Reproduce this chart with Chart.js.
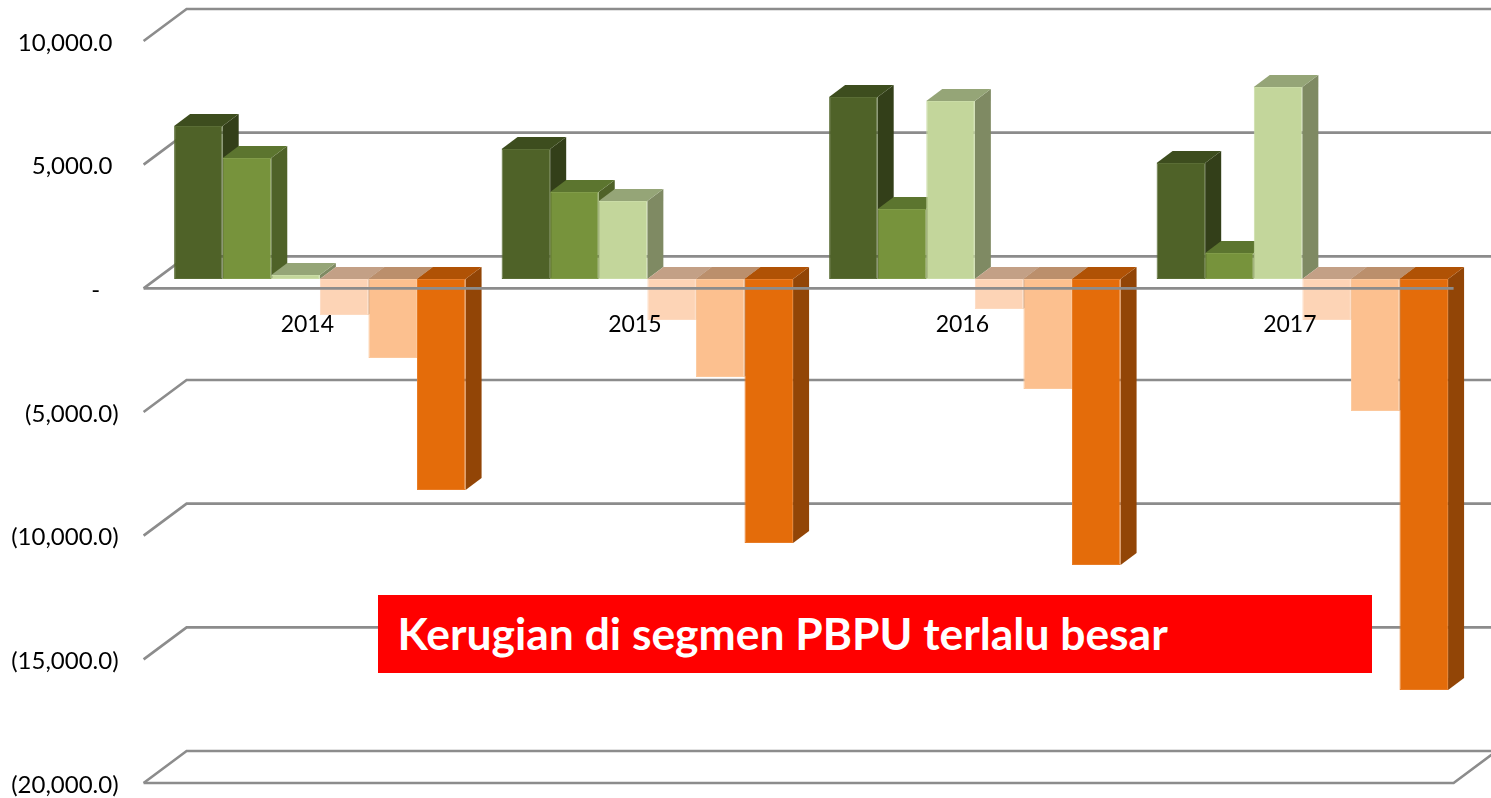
<!DOCTYPE html>
<html>
<head>
<meta charset="utf-8">
<style>
html,body{margin:0;padding:0;background:#fff;width:1491px;height:798px;overflow:hidden}
#wrap{position:relative;width:1491px;height:798px}
canvas{display:block}
#note{position:absolute;left:378px;top:595px;width:994px;height:78px;background:#ff0000;color:#fff;
font:bold 44.4px Lato,sans-serif;line-height:75px;padding-left:19.5px;box-sizing:border-box;white-space:nowrap}
</style>
</head>
<body>
<div id="wrap">
<canvas id="c" width="1491" height="798"></canvas>
<div id="note">Kerugian di segmen PBPU terlalu besar</div>
</div>
<script src="https://cdn.jsdelivr.net/npm/chart.js@4/dist/chart.umd.min.js"></script>
<script>
const categories = ['2014','2015','2016','2017'];
const series1 = [6187, 5257, 7359, 4691];
const series2 = [4893, 3518, 2831, 1051];
const series3 = [162, 3154, 7198, 7764];
const series4 = [-1456, -1658, -1213, -1658];
const series5 = [-3195, -3963, -4448, -5338];
const series6 = [-8532, -10675, -11565, -16620];
const yTickValues = [10000, 5000, 0, -5000, -10000, -15000, -20000];
const yTickLabels = ['10,000.0 ', '5,000.0 ', '-   ', '(5,000.0)', '(10,000.0)', '(15,000.0)', '(20,000.0)'];

const front = ['#4f6228','#77933c','#c3d69b','#fdd4b6','#fcc08f','#e46c0a'];
const edge  = ['#5a6d35','#819c49','#cadca6','#fddac0','#fcc89c','#e87c26'];
const tops  = ['#3d4d1e','#5c752f','#95a577','#c3a086','#bb8f6c','#b05205'];
const sides = ['#333f19','#4f6228','#7f8a63','#b8977e','#b08664','#924506'];
const GRID = '#8c8c8c';
const BAR_SHIFT = {x:12.5, y:-9.3};
const BAR_DEPTH = {x:16, y:-12};
const WALL = {x:43, y:-32};

const scene3d = {
  id:'scene3d',
  beforeDatasetsDraw(chart){
    const {ctx, scales:{x,y}} = chart;
    ctx.save();
    ctx.strokeStyle = GRID; ctx.lineWidth = 2.6;
    yTickValues.forEach(v=>{
      const py = y.getPixelForValue(v);
      ctx.beginPath();
      ctx.moveTo(x.left, py);
      ctx.lineTo(x.left+WALL.x, py+WALL.y);
      ctx.lineTo(x.right+WALL.x, py+WALL.y);
      ctx.stroke();
    });
    ctx.restore();
    ctx.save();
    ctx.translate(BAR_SHIFT.x, BAR_SHIFT.y);
    const n = chart.data.datasets.length;
    categories.forEach((_,ci)=>{
      for(let d=0;d<n;d++){
        const b = chart.getDatasetMeta(d).data[ci];
        const l=b.x-b.width/2, r=b.x+b.width/2;
        const t=Math.min(b.y,b.base), bot=Math.max(b.y,b.base);
        ctx.fillStyle = sides[d];
        ctx.beginPath();
        ctx.moveTo(r,t);ctx.lineTo(r+BAR_DEPTH.x,t+BAR_DEPTH.y);
        ctx.lineTo(r+BAR_DEPTH.x,bot+BAR_DEPTH.y);ctx.lineTo(r,bot);ctx.closePath();ctx.fill();
        ctx.fillStyle = tops[d];
        ctx.beginPath();
        ctx.moveTo(l,t);ctx.lineTo(l+BAR_DEPTH.x,t+BAR_DEPTH.y);
        ctx.lineTo(r+BAR_DEPTH.x,t+BAR_DEPTH.y);ctx.lineTo(r,t);ctx.closePath();ctx.fill();
      }
    });
  },
  afterDatasetsDraw(chart){
    const {ctx, scales:{x,y}} = chart;
    ctx.restore();
    ctx.save();
    ctx.strokeStyle = GRID; ctx.lineWidth = 2.6;
    const p0 = y.getPixelForValue(0), pb = y.getPixelForValue(yTickValues[yTickValues.length-1]);
    ctx.beginPath(); ctx.moveTo(x.left,p0); ctx.lineTo(x.right,p0); ctx.stroke();
    ctx.beginPath(); ctx.moveTo(x.left,pb); ctx.lineTo(x.right,pb);
    ctx.lineTo(x.right+WALL.x,pb+WALL.y); ctx.stroke();
    ctx.restore();
  }
};

const allSeries = [series1,series2,series3,series4,series5,series6];
new Chart(document.getElementById('c'),{
  type:'bar',
  data:{labels:categories,datasets:allSeries.map((s,i)=>({
    label:'Seri '+(i+1),data:s,backgroundColor:front[i],borderColor:edge[i],borderWidth:1,borderSkipped:false,
    clip:false,barPercentage:1,categoryPercentage:0.89
  }))},
  options:{
    responsive:false,animation:false,
    layout:{padding:{left:0,right:37.4,top:41,bottom:15}},
    plugins:{legend:{display:false},title:{display:false},tooltip:{enabled:false}},
    scales:{
      x:{type:'category',position:{y:0},offset:true,
        afterFit(s){s.height=0;s.paddingTop=0;s.paddingBottom=0;},
        grid:{display:false,drawTicks:false},border:{display:false},
        ticks:{font:{family:'Lato',size:23},color:'#000',padding:22,maxRotation:0,z:1}},
      y:{min:-20000,max:10000,
        afterFit(s){s.width=143.6;s.paddingTop=0;s.paddingBottom=0;},
        afterBuildTicks(s){s.ticks=yTickValues.map(v=>({value:v}));},
        grid:{display:false,drawTicks:false},border:{display:false},
        ticks:{font:{family:'Lato',size:24},color:'#000',padding:25,labelOffset:2,
          callback:v=>yTickLabels[yTickValues.indexOf(v)]}}
    }
  },
  plugins:[scene3d]
});
</script>
</body>
</html>
